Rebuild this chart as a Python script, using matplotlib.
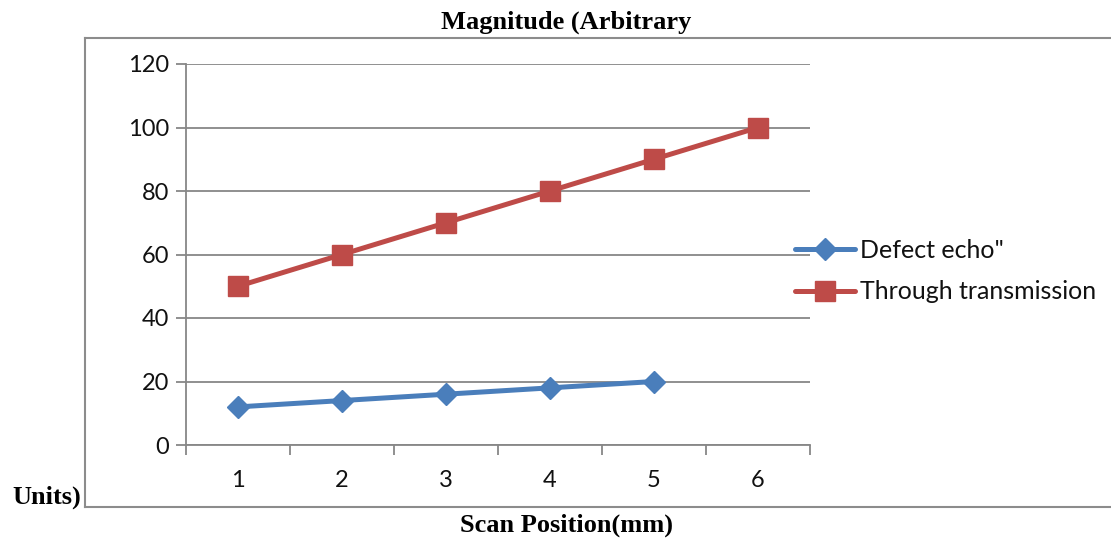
import numpy as np
import matplotlib
matplotlib.use("Agg")
import matplotlib.pyplot as plt
from matplotlib.lines import Line2D

# data
positions = ["1", "2", "3", "4", "5", "6"]
defect_echo = [12, 14, 16, 18, 20]
through_trans = [50, 60, 70, 80, 90, 100]
yticks = [0, 20, 40, 60, 80, 100, 120]

W, H = 1111, 540
fig = plt.figure(figsize=(W / 100, H / 100), dpi=100)

def fx(px):
    return px / W

def fy(py):
    return 1 - py / H

grey = "#878787"
blue = "#4A7EBB"
red = "#BE4B48"
tick_font = "Lato"

# outer frame (only top, left, bottom visible)
for xs, ys in [((85, W + 5), (38, 38)), ((85, 85), (38, 507)), ((85, W + 5), (507, 507))]:
    fig.add_artist(Line2D([fx(x) for x in xs], [fy(y) for y in ys],
                          color="#8c8c8c", lw=1.5, transform=fig.transFigure))

ax = fig.add_axes([fx(186), fy(445), fx(810) - fx(186), fy(64) - fy(445)])

x = np.arange(len(positions))
ax.plot(x[:len(defect_echo)], defect_echo, color=blue, lw=3.6, marker="D",
        markersize=11, solid_capstyle="round", label='Defect echo"')
ax.plot(x, through_trans, color=red, lw=3.6, marker="s",
        markersize=14, solid_capstyle="round", label="Through transmission")

ax.set_xlim(-0.5, len(positions) - 0.5)
ax.set_ylim(0, 120)
ax.set_yticks(yticks)
ax.set_xticks(x)
ax.set_xticklabels(positions)
ax.set_xticks(np.arange(len(positions) + 1) - 0.5, minor=True)
ax.tick_params(axis="x", which="major", length=0, pad=18, labelsize=17, labelcolor="#111111")
ax.tick_params(axis="x", which="minor", length=7, width=1.3, color=grey)
ax.tick_params(axis="y", length=7, width=1.3, color=grey, pad=5, labelsize=17, labelcolor="#111111")
for lab in ax.get_xticklabels() + ax.get_yticklabels():
    lab.set_fontfamily(tick_font)

ax.yaxis.grid(True, color=grey, lw=1.3)
ax.set_axisbelow(True)
for side in ["top", "right"]:
    ax.spines[side].set_visible(False)
for side in ["left", "bottom"]:
    ax.spines[side].set_color(grey)
    ax.spines[side].set_linewidth(1.3)
ax.patch.set_alpha(0)

leg = fig.legend(loc="center left", bbox_to_anchor=(fx(795), fy(271)),
                 frameon=False, handlelength=2.4, handletextpad=0.2,
                 labelspacing=0.74, borderaxespad=0, borderpad=0,
                 prop={"family": tick_font, "size": 18})
for t in leg.get_texts():
    t.set_color("#111111")

serif = "Liberation Serif"
fig.text(fx(566), fy(22), "Magnitude (Arbitrary", ha="center", va="center",
         fontsize=19, fontweight="bold", family=serif)
fig.text(fx(12), fy(497), "Units)", ha="left", va="center",
         fontsize=19, fontweight="bold", family=serif)
fig.text(fx(566), fy(525), "Scan Position(mm)", ha="center", va="center",
         fontsize=19, fontweight="bold", family=serif)

fig.savefig("out.png", dpi=100)
